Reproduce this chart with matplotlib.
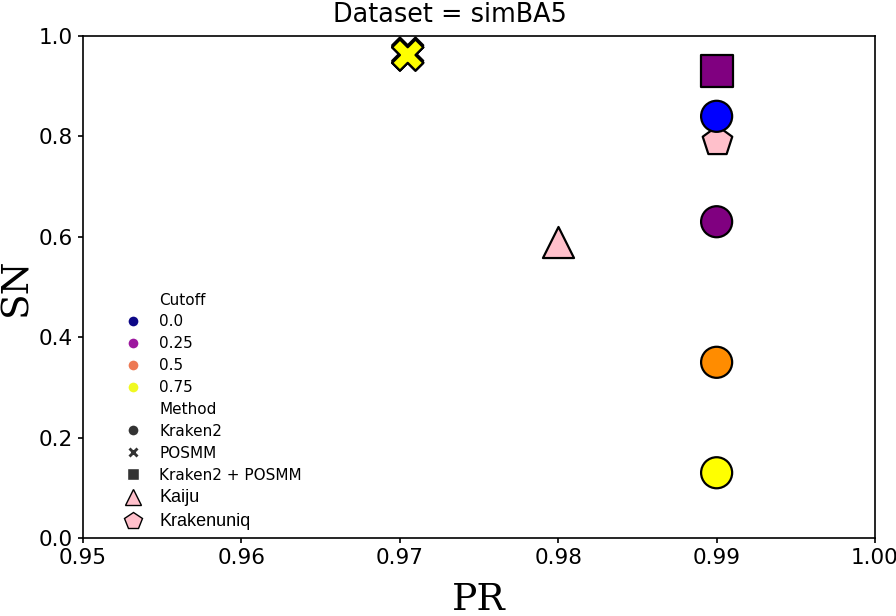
import matplotlib
matplotlib.use('Agg')
import matplotlib.pyplot as plt
from matplotlib.lines import Line2D
import numpy as np

# Kraken2 points, one per cutoff
kraken_pr = [0.99, 0.99, 0.99, 0.99]
kraken_sn = [0.84, 0.63, 0.35, 0.13]
kraken_col = ['blue', 'purple', 'darkorange', 'yellow']

# POSMM points (overlapping), one per cutoff
posmm_pr = [0.9705, 0.9705, 0.9705, 0.9705]
posmm_sn = [0.966, 0.962, 0.962, 0.962]
posmm_col = ['blue', 'purple', 'darkorange', 'yellow']

# Kraken2 + POSMM
combo_pr = [0.99]
combo_sn = [0.93]
combo_col = ['purple']

# other tools
kaiju_pr, kaiju_sn = 0.98, 0.59
kuniq_pr, kuniq_sn = 0.99, 0.79

cutoffs = ['0.0', '0.25', '0.5', '0.75']
methods = ['Kraken2', 'POSMM', 'Kraken2 + POSMM']
method_markers = ['o', 'X', 's']

fig = plt.figure(figsize=(8.96, 6.16), dpi=100)
ax = fig.add_axes([0.0926, 0.1266, 0.884, 0.815])

sz = 500
lw = 1.6
ax.scatter(kraken_pr, kraken_sn, c=kraken_col, marker='o', s=sz,
           edgecolors='black', linewidths=lw, zorder=3)
ax.scatter(posmm_pr, posmm_sn, c=posmm_col, marker='X', s=sz,
           edgecolors='black', linewidths=lw, zorder=3)
ax.scatter(combo_pr, combo_sn, c=combo_col, marker='s', s=sz,
           edgecolors='black', linewidths=lw, zorder=3)
ax.scatter([kaiju_pr], [kaiju_sn], c='pink', marker='^', s=sz,
           edgecolors='black', linewidths=lw, zorder=3)
ax.scatter([kuniq_pr], [kuniq_sn], c='pink', marker='p', s=sz,
           edgecolors='black', linewidths=lw, zorder=2)

ax.set_xlim(0.95, 1.0)
ax.set_ylim(0.0, 1.0)
ax.set_xticks([0.95, 0.96, 0.97, 0.98, 0.99, 1.00])
ax.set_xticklabels(['0.95', '0.96', '0.97', '0.98', '0.99', '1.00'])
ax.set_yticks([0.0, 0.2, 0.4, 0.6, 0.8, 1.0])
ax.tick_params(labelsize=15.5, width=1.2)
for s in ax.spines.values():
    s.set_linewidth(1.2)
ax.set_xlabel('PR', fontsize=27, family='DejaVu Serif', labelpad=10)
ax.set_ylabel('SN', fontsize=27, family='DejaVu Serif', labelpad=3)
fig.text(0.502, 0.975, 'Dataset = simBA5', fontsize=18.4, ha='center', va='center')

# legend like seaborn's hue/style legend plus two extra entries
pal = plt.cm.plasma(np.linspace(0, 1, 4))
handles = [Line2D([], [], linestyle='none', marker='')]
labels = ['Cutoff']
for c, lab in zip(pal, cutoffs):
    handles.append(Line2D([], [], linestyle='none', marker='o', markersize=8,
                          markerfacecolor=c, markeredgecolor='white'))
    labels.append(lab)
handles.append(Line2D([], [], linestyle='none', marker=''))
labels.append('Method')
for m, lab in zip(method_markers, methods):
    handles.append(Line2D([], [], linestyle='none', marker=m, markersize=8,
                          markerfacecolor='#333333', markeredgecolor='white'))
    labels.append(lab)
handles.append(Line2D([], [], linestyle='none', marker='^', markersize=12,
                      markerfacecolor='pink', markeredgecolor='black'))
labels.append('Kaiju')
handles.append(Line2D([], [], linestyle='none', marker='p', markersize=13,
                      markerfacecolor='pink', markeredgecolor='black'))
labels.append('Krakenuniq')

leg = ax.legend(handles, labels, loc='lower left', bbox_to_anchor=(0.026, -0.012),
                frameon=False, fontsize=11, labelspacing=0.45, handletextpad=0.75)
for t in leg.get_texts()[-2:]:
    t.set_fontsize(13)
    t.set_family('Liberation Sans')

fig.savefig('out.png', dpi=100)
